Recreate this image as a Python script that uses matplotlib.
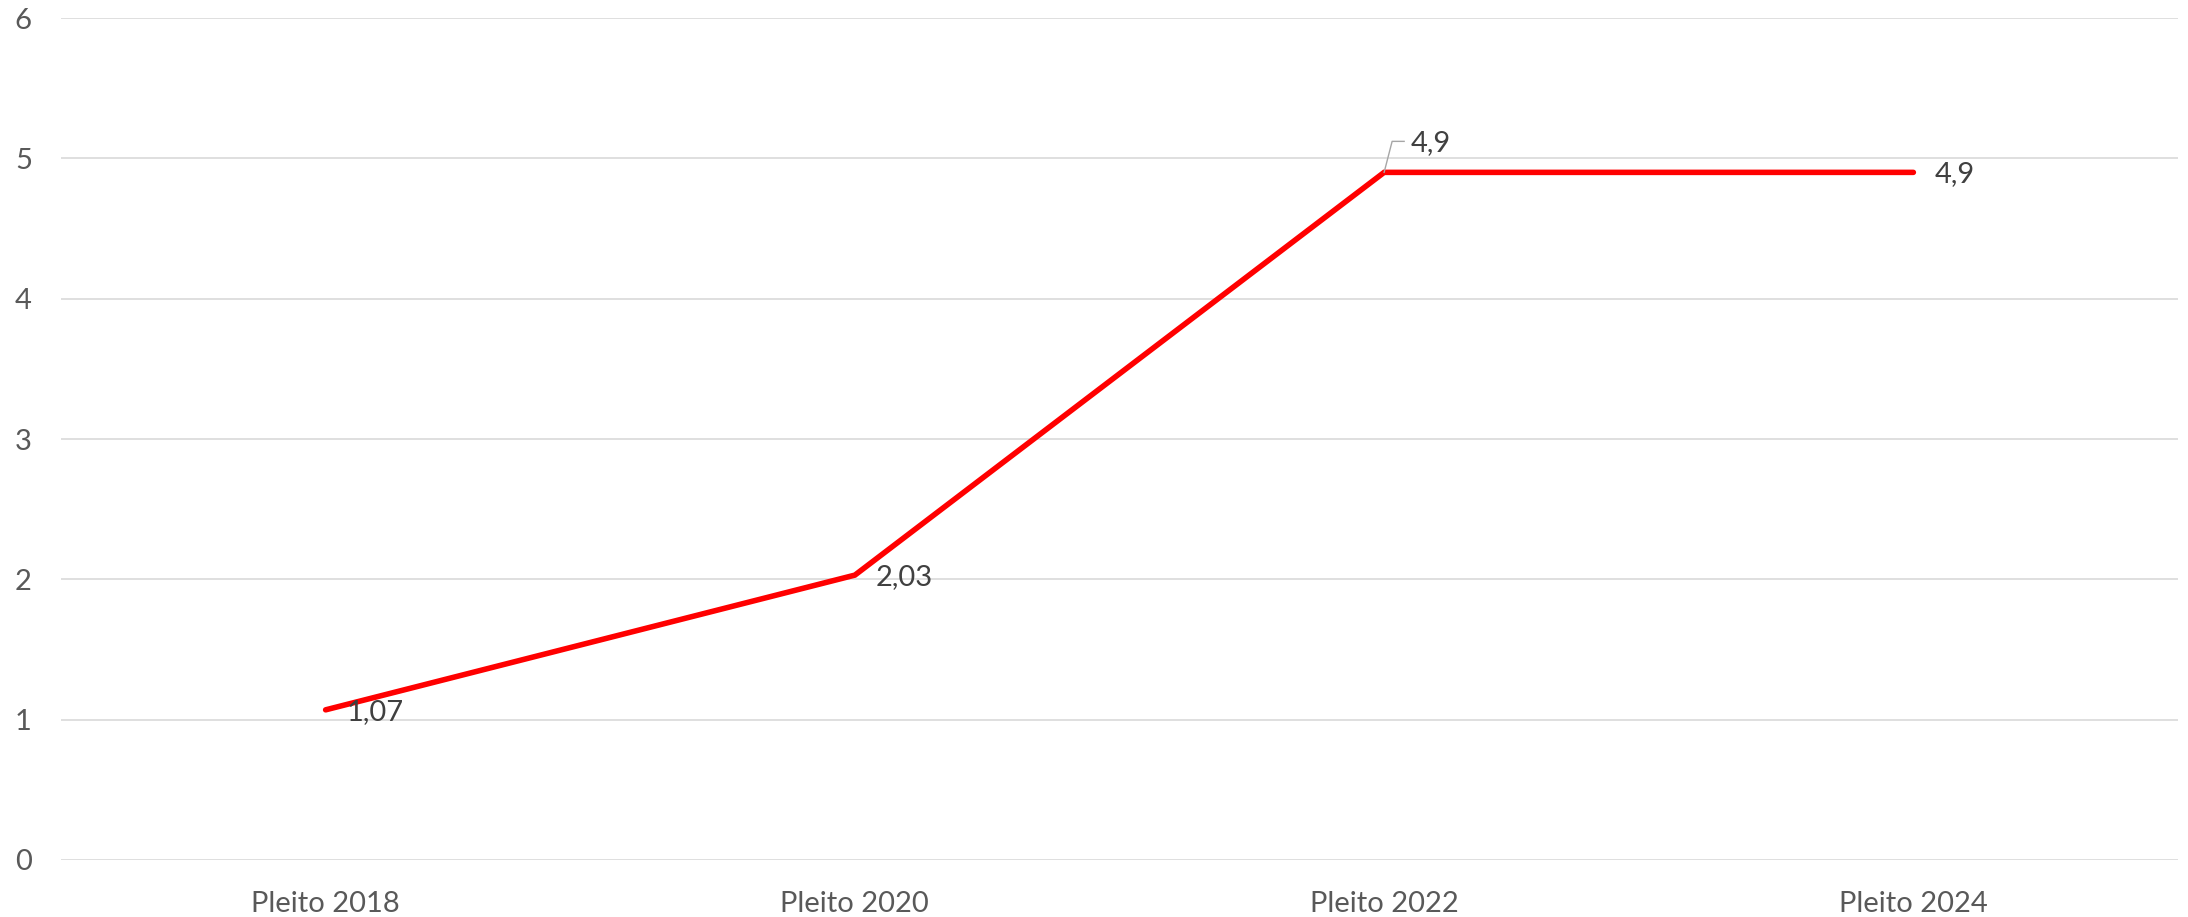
import matplotlib
matplotlib.use("Agg")
import matplotlib.pyplot as plt

categories = ["Pleito 2018", "Pleito 2020", "Pleito 2022", "Pleito 2024"]
values = [1.07, 2.03, 4.9, 4.9]
value_labels = ["1,07", "2,03", "4,9", "4,9"]
y_ticks = [0, 1, 2, 3, 4, 5, 6]

plt.rcParams['font.family'] = ['Lato', 'DejaVu Sans']

W, H, DPI = 2188, 917, 100
fig = plt.figure(figsize=(W / DPI, H / DPI), dpi=DPI)
ax = fig.add_axes([61 / W, 1 - 860 / H, (2178 - 61) / W, (860 - 18) / H])

x = list(range(len(categories)))
ax.plot(x, values, color="#FF0000", lw=4.0, solid_capstyle="round",
        solid_joinstyle="miter", zorder=3)

ax.set_xlim(-0.5, len(categories) - 0.5)
ax.set_ylim(0, 6)
ax.set_yticks(y_ticks)
ax.set_xticks(x)
ax.set_xticklabels(categories)
ax.yaxis.grid(True, color="#D9D9D9", lw=1.2)
ax.set_axisbelow(True)
for s in ax.spines.values():
    s.set_visible(False)
ax.tick_params(axis="both", length=0, labelsize=21, colors="#595959")
ax.tick_params(axis="y", pad=21)
ax.tick_params(axis="x", pad=22)

LABEL_SIZE = 21
for i, (v, lab) in enumerate(zip(values, value_labels)):
    if i == 2:
        ax.annotate(lab, xy=(i, v), xytext=(27, 29), textcoords="offset pixels",
                    ha="left", va="center", fontsize=LABEL_SIZE, color="#404040")
        px, py = ax.transData.transform((i, v))
        inv = ax.transData.inverted()
        p1 = inv.transform((px + 8, py + 31))
        p2 = inv.transform((px + 20, py + 31))
        ax.plot([i, p1[0], p2[0]], [v, p1[1], p2[1]], color="#A6A6A6", lw=1.0, zorder=4)
    else:
        ax.annotate(lab, xy=(i, v), xytext=(21, -2), textcoords="offset pixels",
                    ha="left", va="center", fontsize=LABEL_SIZE, color="#404040")

fig.savefig("out.png", dpi=DPI)
